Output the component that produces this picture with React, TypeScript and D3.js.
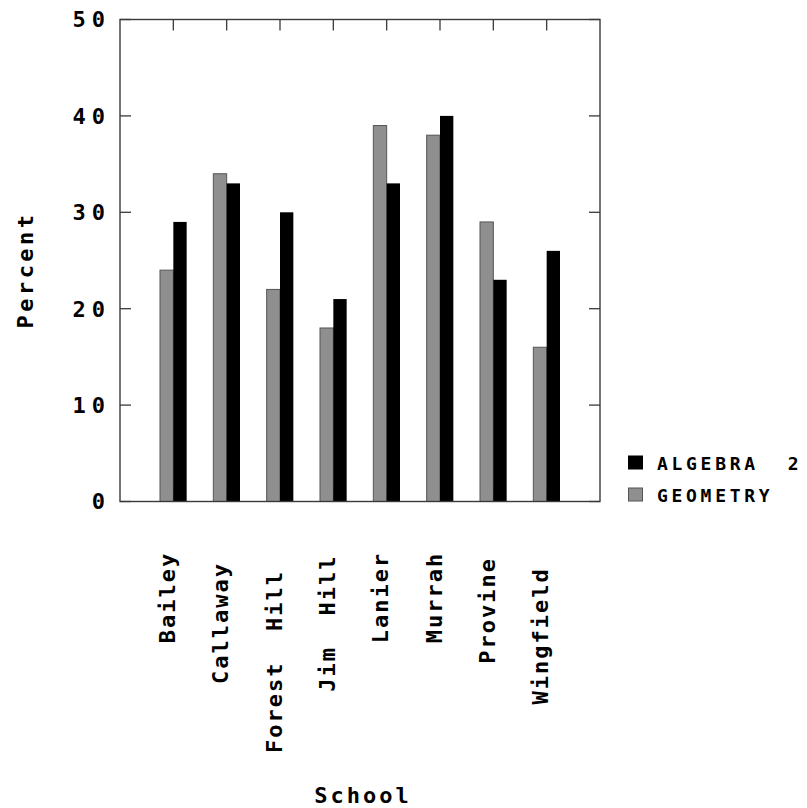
import React from "react";
import * as d3 from "d3";

const schools = ["Bailey", "Callaway", "Forest  Hill", "Jim  Hill", "Lanier", "Murrah", "Provine", "Wingfield"];
const geometry = [24, 34, 22, 18, 39, 38, 29, 16];
const algebra2 = [29, 33, 30, 21, 33, 40, 23, 26];
const yTicks = [0, 10, 20, 30, 40, 50];
const seriesNames = ["ALGEBRA  2", "GEOMETRY"];

const W = 807;
const H = 808;
const FONT = "'DejaVu Sans Mono', monospace";
const GRAY = "#8f8f8f";
const AXIS = "#3a3a3a";

export default function App() {
  const left = 120, right = 600, top = 19.5, bottom = 501.5;
  const x = d3.scaleLinear().domain([0, schools.length + 1]).range([left, right]);
  const y = d3.scaleLinear().domain([0, 50]).range([bottom, top]);
  const bw = (x(1) - x(0)) / 4;
  const tickLen = 11;

  const labelCenter = (s: string) => 597.5 + 12.8 * (s.replace(/\s+/g, " ").length - 6);

  return (
    <svg width={W} height={H} style={{ position: "absolute", left: 0, top: 0, background: "#fff" }}>
      {/* ticks */}
      {yTicks.map((t) => (
        <g key={"yt" + t}>
          <line x1={left} x2={left + tickLen} y1={y(t)} y2={y(t)} stroke={AXIS} strokeWidth={1.3} />
          <line x1={right} x2={right - tickLen} y1={y(t)} y2={y(t)} stroke={AXIS} strokeWidth={1.3} />
          <text
            x={111}
            y={y(t)}
            dy="0.36em"
            textAnchor="end"
            fontFamily={FONT}
            fontWeight="bold"
            fontSize={22}
            letterSpacing={6}
            fill="#000"
          >
            {t}
          </text>
        </g>
      ))}
      {schools.map((s, i) => (
        <g key={"xt" + i}>
          <line x1={x(i + 1)} x2={x(i + 1)} y1={top} y2={top + tickLen} stroke={AXIS} strokeWidth={1.3} />
          <line x1={x(i + 1)} x2={x(i + 1)} y1={bottom} y2={bottom - tickLen} stroke={AXIS} strokeWidth={1.3} />
        </g>
      ))}
      {/* bars */}
      {schools.map((s, i) => (
        <g key={"bar" + i}>
          <rect
            x={x(i + 1) - bw}
            y={y(geometry[i])}
            width={bw}
            height={y(0) - y(geometry[i])}
            fill={GRAY}
            stroke="#555"
            strokeWidth={1}
          />
          <rect
            x={x(i + 1)}
            y={y(algebra2[i])}
            width={bw}
            height={y(0) - y(algebra2[i])}
            fill="#000"
          />
        </g>
      ))}
      {/* frame */}
      <rect x={left} y={top} width={right - left} height={bottom - top} fill="none" stroke={AXIS} strokeWidth={1.4} />
      {/* category labels */}
      {schools.map((s, i) => (
        <text
          key={"xl" + i}
          transform={`translate(${x(i + 1) + 1.5},${labelCenter(s)}) rotate(-90)`}
          textAnchor="middle"
          fontFamily={FONT}
          fontWeight="bold"
          fontSize={22}
          letterSpacing={2}
          style={{ whiteSpace: "pre" }}
          fill="#000"
        >
          {s}
        </text>
      ))}
      {/* axis titles */}
      <text
        transform={`translate(33,270) rotate(-90)`}
        textAnchor="middle"
        fontFamily={FONT}
        fontWeight="bold"
        fontSize={22}
        letterSpacing={3.5}
        fill="#000"
      >
        Percent
      </text>
      <text
        x={(left + right) / 2 + 3}
        y={803}
        textAnchor="middle"
        fontFamily={FONT}
        fontWeight="bold"
        fontSize={22}
        letterSpacing={3}
        fill="#000"
      >
        School
      </text>
      {/* legend */}
      {seriesNames.map((n, i) => (
        <g key={"lg" + i}>
          <rect
            x={628.5}
            y={456 + i * 32}
            width={14}
            height={13}
            fill={i === 0 ? "#000" : GRAY}
            stroke={i === 0 ? "#000" : "#555"}
            strokeWidth={1}
          />
          <text
            x={657}
            y={469.5 + i * 32}
            fontFamily={FONT}
            fontWeight="bold"
            fontSize={18}
            letterSpacing={3.7}
            style={{ whiteSpace: "pre" }}
            fill="#000"
          >
            {n}
          </text>
        </g>
      ))}
    </svg>
  );
}
